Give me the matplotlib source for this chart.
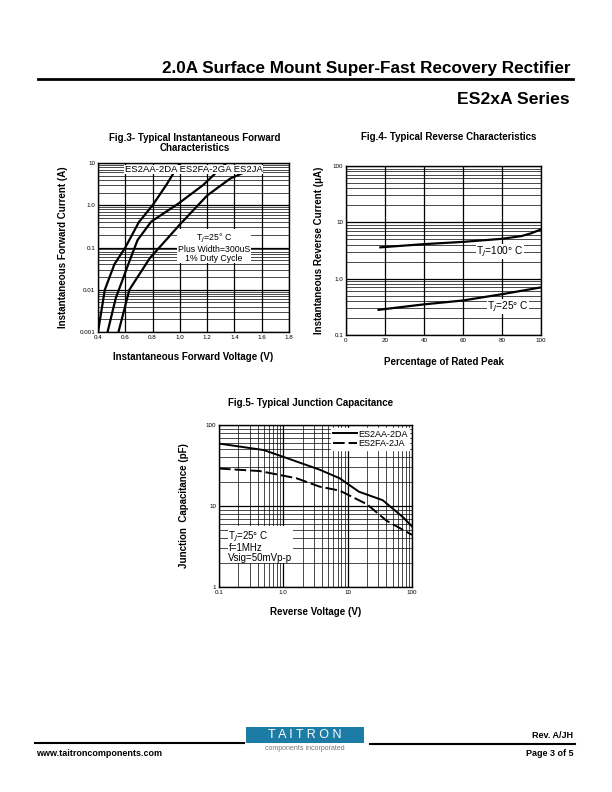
import matplotlib
matplotlib.use("Agg")
import matplotlib.pyplot as plt
from matplotlib.patches import Rectangle
from matplotlib.lines import Line2D

plt.rcParams["font.family"] = ["Liberation Sans", "DejaVu Sans"]

W, H = 612, 792

# Fig.3 - forward characteristics (V, A)
fwd_2aa_v = [0.40, 0.45, 0.52, 0.60, 0.70, 0.80, 0.90, 1.00]
fwd_2aa_i = [0.001, 0.01, 0.04, 0.1, 0.4, 1.0, 3.0, 10.0]
fwd_2fa_v = [0.47, 0.53, 0.63, 0.69, 0.79, 0.99, 1.17, 1.34]
fwd_2fa_i = [0.001, 0.0063, 0.047, 0.15, 0.41, 1.1, 3.0, 10.0]
fwd_2ja_v = [0.55, 0.63, 0.78, 1.00, 1.20, 1.37, 1.55]
fwd_2ja_i = [0.001, 0.01, 0.056, 0.35, 1.7, 4.3, 7.7]
fwd_xticks = [0.4, 0.6, 0.8, 1.0, 1.2, 1.4, 1.6, 1.8]
fwd_yticks = [0.001, 0.01, 0.1, 1.0, 10]
fwd_ylabels = ["0.001", "0.01", "0.1", "1.0", "10"]

# Fig.4 - reverse characteristics (% rated peak, uA)
rev_pct_100 = [17.6, 40, 60, 80, 90, 95, 100]
rev_ir_100 = [3.6, 4.1, 4.5, 5.1, 5.7, 6.4, 7.5]
rev_pct_25 = [16.7, 40, 60, 80, 100]
rev_ir_25 = [0.28, 0.35, 0.41, 0.53, 0.70]
rev_xticks = [0, 20, 40, 60, 80, 100]
rev_yticks = [0.1, 1.0, 10, 100]
rev_ylabels = ["0.1", "1.0", "10", "100"]

# Fig.5 - junction capacitance (V, pF)
cap_v_2aa = [0.1, 0.5, 1.25, 3.7, 7.5, 15, 35, 72, 100]
cap_c_2aa = [59, 49, 38, 28, 22, 15, 11.8, 7.3, 5.6]
cap_v_2fa = [0.1, 0.43, 1.6, 3.7, 7.5, 20, 40, 100]
cap_c_2fa = [29, 27, 22, 17.3, 15.5, 10.5, 6.6, 4.4]
cap_xticks = [0.1, 1, 10, 100]
cap_xlabels = ["0.1", "1.0", "10", "100"]
cap_yticks = [1, 10, 100]
cap_ylabels = ["1", "10", "100"]


def box(l, r, t, b):
    return [l / W, 1 - b / H, (r - l) / W, (b - t) / H]


def ptxt(x, y, s, **kw):
    fig.text(x / W, 1 - y / H, s, **kw)


def style(ax):
    ax.tick_params(which="both", length=0, labelsize=4.5, pad=2)
    ax.minorticks_on()
    ax.grid(which="major", color="black", lw=0.9)
    ax.grid(which="minor", axis="y", color="black", lw=0.5)
    for sp in ax.spines.values():
        sp.set_linewidth(1.0)


fig = plt.figure(figsize=(W / 100, H / 100), dpi=100)

# header
ptxt(570, 68, "2.0A Surface Mount Super-Fast Recovery Rectifier", ha="right", va="center",
     fontsize=12.3, fontweight="bold")
fig.add_artist(Line2D([38 / W, 573 / W], [1 - 79 / H] * 2, color="black", lw=2))
ptxt(570, 100, "ES2xA Series", ha="right", va="center", fontsize=12.6, fontweight="bold")

# ---- Fig.3
ax3 = fig.add_axes(box(98, 289, 163, 332))
ax3.plot(fwd_2aa_v, fwd_2aa_i, color="black", lw=1.6)
ax3.plot(fwd_2fa_v, fwd_2fa_i, color="black", lw=1.6)
ax3.plot(fwd_2ja_v, fwd_2ja_i, color="black", lw=1.6)
ax3.set_yscale("log")
ax3.set_xlim(0.4, 1.8)
ax3.set_ylim(0.001, 10)
ax3.set_xticks(fwd_xticks)
ax3.set_xticklabels([f"{v:.1f}" for v in fwd_xticks])
ax3.set_yticks(fwd_yticks)
ax3.set_yticklabels(fwd_ylabels)
style(ax3)
ax3.grid(which="minor", axis="x", visible=False)
ax3.text(1.1, 7.0, "ES2AA-2DA ES2FA-2GA ES2JA", fontsize=6.8, ha="center", va="center",
         bbox=dict(fc="white", ec="none", pad=0.2))
ax3.text(1.25, 0.1, "T$_J$=25° C\nPlus Width=300uS\n1% Duty Cycle", fontsize=6.3,
         ha="center", va="center", linespacing=0.95,
         bbox=dict(fc="white", ec="none", pad=0.3))
ax3.set_xlabel("Instantaneous Forward Voltage (V)", fontsize=7, fontweight="bold", labelpad=9)
ax3.set_ylabel("Instantaneous Forward Current (A)", fontsize=7, fontweight="bold", labelpad=8)
ptxt(195, 143, "Fig.3- Typical Instantaneous Forward\nCharacteristics", ha="center", va="center",
     fontsize=7, fontweight="bold", linespacing=1.0)

# ---- Fig.4
ax4 = fig.add_axes(box(346, 541, 166, 335))
ax4.plot(rev_pct_100, rev_ir_100, color="black", lw=1.6)
ax4.plot(rev_pct_25, rev_ir_25, color="black", lw=1.6)
ax4.set_yscale("log")
ax4.set_xlim(0, 100)
ax4.set_ylim(0.1, 100)
ax4.set_xticks(rev_xticks)
ax4.set_yticks(rev_yticks)
ax4.set_yticklabels(rev_ylabels)
style(ax4)
ax4.grid(which="minor", axis="x", visible=False)
ax4.text(79, 3.0, "T$_J$=100° C", fontsize=7.3, ha="center", va="center",
         bbox=dict(fc="white", ec="none", pad=0.4))
ax4.text(83, 0.32, "T$_J$=25° C", fontsize=7.3, ha="center", va="center",
         bbox=dict(fc="white", ec="none", pad=0.4))
ax4.set_xlabel("Percentage of Rated Peak", fontsize=7, fontweight="bold", labelpad=10)
ax4.set_ylabel("Instantaneous Reverse Current (μA)", fontsize=7, fontweight="bold", labelpad=6)
ptxt(449, 137, "Fig.4- Typical Reverse Characteristics", ha="center", va="center",
     fontsize=7, fontweight="bold")

# ---- Fig.5
ax5 = fig.add_axes(box(219, 412, 425, 587))
ax5.plot(cap_v_2aa, cap_c_2aa, color="black", lw=1.4, label="ES2AA-2DA")
ax5.plot(cap_v_2fa, cap_c_2fa, color="black", lw=1.4, ls=(0, (6, 2)), label="ES2FA-2JA")
ax5.set_xscale("log")
ax5.set_yscale("log")
ax5.set_xlim(0.1, 100)
ax5.set_ylim(1, 100)
ax5.set_xticks(cap_xticks)
ax5.set_xticklabels(cap_xlabels)
ax5.set_yticks(cap_yticks)
ax5.set_yticklabels(cap_ylabels)
style(ax5)
ax5.grid(which="minor", axis="x", color="black", lw=0.5)
ax5.legend(loc="upper right", fontsize=6.5, frameon=True, fancybox=False, framealpha=1,
           edgecolor="white", borderpad=0.2, labelspacing=0.05, handlelength=2.7,
           handletextpad=0.1, borderaxespad=0.3)
ax5.text(0.14, 3.2, "T$_J$=25° C\nf=1MHz\nVsig=50mVp-p", fontsize=7, ha="left", va="center",
         linespacing=0.95, bbox=dict(fc="white", ec="none", pad=0.3))
ax5.set_xlabel("Reverse Voltage (V)", fontsize=7, fontweight="bold", labelpad=9)
ax5.set_ylabel("Junction  Capacitance (pF)", fontsize=7, fontweight="bold", labelpad=12)
ptxt(311, 403, "Fig.5- Typical Junction Capacitance", ha="center", va="center",
     fontsize=7, fontweight="bold")

# footer
fig.add_artist(Line2D([35 / W, 244 / W], [1 - 743 / H] * 2, color="black", lw=1.5))
fig.add_artist(Line2D([370 / W, 575 / W], [1 - 744 / H] * 2, color="black", lw=1.5))
fig.add_artist(Rectangle((246 / W, 1 - 743 / H), 118 / W, 16 / H, transform=fig.transFigure,
                         fc="#1c7ca6", ec="none"))
ptxt(305, 735, "T A I T R O N", ha="center", va="center", fontsize=9, color="white")
ptxt(305, 748, "components incorporated", ha="center", va="center", fontsize=5, color="#777777")
ptxt(573, 735, "Rev. A/JH", ha="right", va="center", fontsize=6.5, fontweight="bold")
ptxt(36, 753, "www.taitroncomponents.com", ha="left", va="center", fontsize=6.5, fontweight="bold")
ptxt(573, 753, "Page 3 of 5", ha="right", va="center", fontsize=6.5, fontweight="bold")

fig.savefig("out.png", dpi=100)
